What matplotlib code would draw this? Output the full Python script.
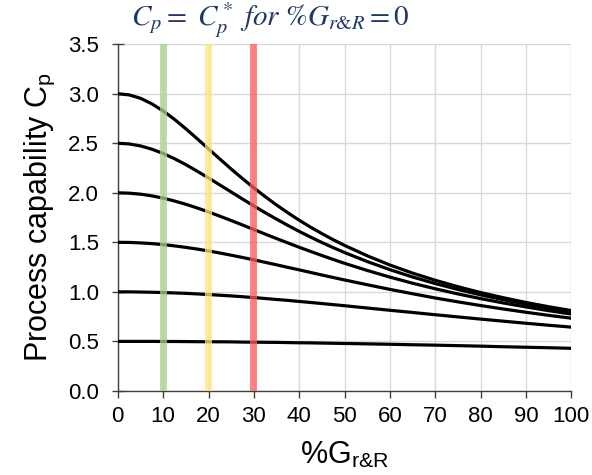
import numpy as np
import matplotlib
matplotlib.use("Agg")
import matplotlib.pyplot as plt

plt.rcParams['font.family'] = ['Liberation Sans', 'DejaVu Sans']
plt.rcParams['mathtext.fontset'] = 'stix'

# %GR&R (x) and observed Cp for each true Cp*
grr = [0, 2.5, 5, 7.5, 10, 12.5, 15, 17.5, 20, 22.5, 25, 27.5, 30, 32.5, 35, 37.5,
       40, 42.5, 45, 47.5, 50, 55, 60, 65, 70, 75, 80, 85, 90, 95, 100]
cp_30 = [3.000, 2.988, 2.954, 2.898, 2.826, 2.741, 2.646, 2.546, 2.443, 2.341, 2.240,
         2.143, 2.050, 1.961, 1.877, 1.798, 1.723, 1.653, 1.588, 1.526, 1.469,
         1.364, 1.271, 1.189, 1.117, 1.052, 0.993, 0.941, 0.893, 0.850, 0.811]
cp_25 = [2.500, 2.493, 2.473, 2.440, 2.397, 2.344, 2.284, 2.218, 2.150, 2.079, 2.008,
         1.937, 1.867, 1.799, 1.734, 1.671, 1.610, 1.553, 1.498, 1.446, 1.397,
         1.306, 1.224, 1.150, 1.084, 1.024, 0.970, 0.921, 0.876, 0.836, 0.798]
cp_20 = [2.000, 1.996, 1.986, 1.969, 1.946, 1.917, 1.884, 1.847, 1.807, 1.764, 1.720,
         1.675, 1.629, 1.583, 1.538, 1.494, 1.450, 1.408, 1.367, 1.327, 1.288,
         1.216, 1.149, 1.087, 1.031, 0.979, 0.932, 0.888, 0.848, 0.810, 0.776]
cp_15 = [1.500, 1.499, 1.494, 1.487, 1.477, 1.464, 1.449, 1.432, 1.413, 1.392, 1.370,
         1.347, 1.323, 1.298, 1.273, 1.247, 1.222, 1.196, 1.170, 1.145, 1.120,
         1.072, 1.025, 0.981, 0.938, 0.899, 0.862, 0.827, 0.794, 0.763, 0.734]
cp_10 = [1.000, 1.000, 0.998, 0.996, 0.993, 0.989, 0.985, 0.979, 0.973, 0.966, 0.959,
         0.951, 0.942, 0.933, 0.923, 0.914, 0.903, 0.893, 0.882, 0.871, 0.860,
         0.837, 0.814, 0.792, 0.769, 0.747, 0.725, 0.704, 0.683, 0.663, 0.644]
cp_05 = [0.500, 0.500, 0.500, 0.500, 0.499, 0.499, 0.498, 0.497, 0.496, 0.496, 0.495,
         0.493, 0.492, 0.491, 0.490, 0.488, 0.486, 0.485, 0.483, 0.481, 0.479,
         0.475, 0.471, 0.466, 0.462, 0.457, 0.452, 0.446, 0.441, 0.436, 0.430]

# acceptance limits for %GR&R
limits = [10, 20, 30]
limit_colors = ['#a9d18e', '#ffe57f', '#ff5c5c']

fig = plt.figure(figsize=(5.92, 4.75), dpi=100)
ax = fig.add_axes([0.199, 0.177, 0.766, 0.730])

for cp in [cp_30, cp_25, cp_20, cp_15, cp_10, cp_05]:
    ax.plot(grr, cp, color='black', lw=2.3, zorder=3, solid_joinstyle='round')

for lim, col in zip(limits, limit_colors):
    ax.axvspan(lim - 0.75, lim + 0.75, color=col, alpha=0.75, lw=0, zorder=4)

ax.set_xlim(0, 100)
ax.set_ylim(0, 3.5)
ax.set_xticks(np.arange(0, 101, 10))
ax.set_yticks(np.arange(0, 3.51, 0.5))
ax.set_yticklabels([f"{v:.1f}" for v in np.arange(0, 3.51, 0.5)])
ax.grid(color='#d9d9d9', lw=1, zorder=0)
ax.set_axisbelow(True)

for s in ['top', 'right']:
    ax.spines[s].set_visible(False)
for s in ['left', 'bottom']:
    ax.spines[s].set_color('#404040')
    ax.spines[s].set_linewidth(1)

ax.tick_params(axis='y', direction='inout', length=9, width=1, color='#404040',
               labelsize=16, pad=9)
ax.tick_params(axis='x', direction='out', length=5, width=1, color='#404040',
               labelsize=16, pad=6)

ax.set_ylabel(r'Process capability C$_\mathregular{p}$', fontsize=22, labelpad=8)
ax.set_xlabel(r'%G$_\mathregular{r&R}$', fontsize=22, labelpad=10)

fig.text(0.456, 0.958, r'$C_p =\ C_p^*\ for\ \%G_{r&R} = 0$', color='#1f3864',
         fontsize=21, ha='center', va='center')

fig.savefig('out.png', dpi=100, facecolor='white')
